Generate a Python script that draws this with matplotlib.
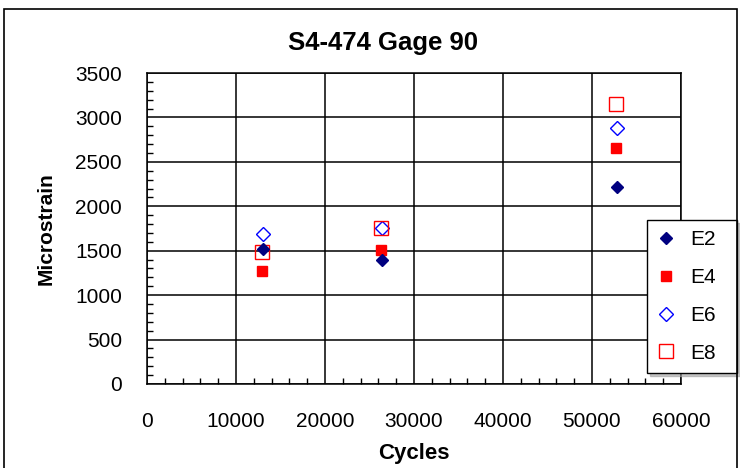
import numpy as np
import matplotlib.pyplot as plt
from matplotlib.patches import Rectangle
from matplotlib.ticker import MultipleLocator

plt.rcParams['font.family'] = ['Liberation Sans', 'DejaVu Sans']

# data
cycles = [12900, 26300, 52700]
e2 = [1520, 1400, 2220]
e4 = [1270, 1510, 2660]
e6 = [1690, 1760, 2880]
e8 = [1485, 1760, 3150]

fig = plt.figure(figsize=(7.4, 4.68), dpi=100)
ax = fig.add_axes([0.1986, 0.1795, 0.7216, 0.6645])

ax.plot([c + 100 for c in cycles], e2, linestyle='none', marker='D', ms=6,
        color='#000080', label='E2', zorder=5)
ax.plot(cycles, e4, linestyle='none', marker='s', ms=7.5,
        color='#ff0000', label='E4', zorder=4)
ax.plot([c + 100 for c in cycles], e6, linestyle='none', marker='D', ms=7.5,
        mfc='none', mec='#0000ff', mew=1, label='E6', zorder=3)
ax.plot(cycles, e8, linestyle='none', marker='s', ms=9.5,
        mfc='none', mec='#ff0000', mew=1, label='E8', zorder=3)

ax.set_xlim(0, 60000)
ax.set_ylim(0, 3500)
ax.xaxis.set_major_locator(MultipleLocator(10000))
ax.xaxis.set_minor_locator(MultipleLocator(2000))
ax.yaxis.set_major_locator(MultipleLocator(500))
ax.yaxis.set_minor_locator(MultipleLocator(100))
ax.grid(True, which='major', color='black', linewidth=1.1)
ax.tick_params(which='major', direction='in', length=0, labelsize=15)
ax.tick_params(axis='x', which='major', pad=20)
ax.tick_params(axis='y', which='major', pad=18)
ax.tick_params(which='minor', direction='in', length=4, width=1)
for s in ax.spines.values():
    s.set_linewidth(1.1)

fig.text(383 / 740, 1 - 50 / 468, 'S4-474 Gage 90', fontsize=18.5,
         fontweight='bold', ha='center', va='baseline')
ax.set_xlabel('Cycles', fontsize=16, fontweight='bold', labelpad=9)
ax.set_ylabel('Microstrain', fontsize=15, fontweight='bold', labelpad=14)

leg = ax.legend(loc='upper left',
                bbox_to_anchor=(647 / 740, 1 - 375 / 468, 90 / 740, 155 / 468),
                bbox_transform=fig.transFigure, mode='expand', frameon=True,
                fancybox=False, shadow={'color': '#a0a0a0', 'alpha': 0.6},
                fontsize=15, handletextpad=0.8, labelspacing=0.9,
                borderpad=0.5, handlelength=0.8, borderaxespad=0)
leg.get_frame().set_edgecolor('black')
leg.get_frame().set_linewidth(1)

fig.patches.append(Rectangle((4 / 740, -0.05), 733 / 740, 1.05 - 9 / 468,
                             transform=fig.transFigure, fill=False,
                             edgecolor='black', linewidth=1.2))

fig.savefig('out.png', dpi=100)
